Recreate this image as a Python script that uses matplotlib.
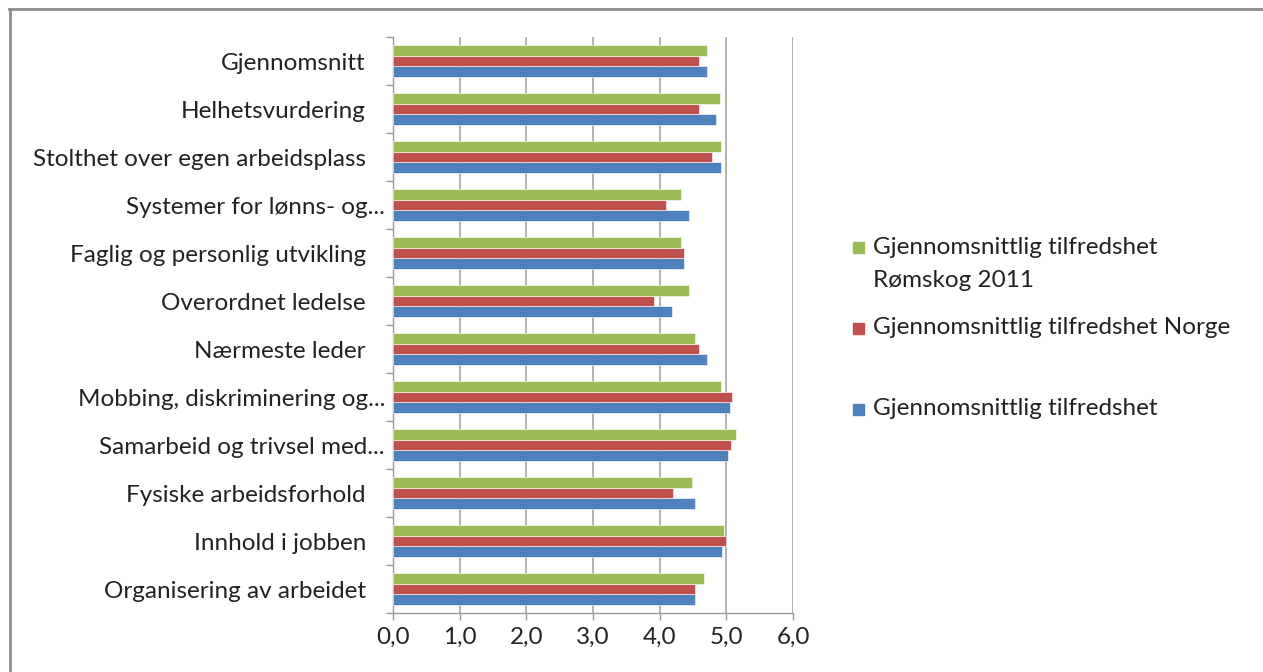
import matplotlib.pyplot as plt
import matplotlib.transforms as mtransforms
from matplotlib.patches import Rectangle
from matplotlib.lines import Line2D
import numpy as np

plt.rcParams['font.family'] = ['Lato', 'DejaVu Sans']

# categories listed bottom to top, as in the chart
categories = ['Organisering av arbeidet', 'Innhold i jobben', 'Fysiske arbeidsforhold',
              'Samarbeid og trivsel med...', 'Mobbing, diskriminering og...',
              'Nærmeste leder', 'Overordnet ledelse', 'Faglig og personlig utvikling',
              'Systemer for lønns- og...', 'Stolthet over egen arbeidsplass',
              'Helhetsvurdering', 'Gjennomsnitt']
tilfredshet = [4.53, 4.94, 4.53, 5.03, 5.05, 4.71, 4.19, 4.36, 4.44, 4.92, 4.84, 4.71]
norge = [4.53, 5.00, 4.20, 5.07, 5.09, 4.59, 3.92, 4.36, 4.09, 4.78, 4.59, 4.59]
romskog = [4.67, 4.96, 4.49, 5.15, 4.92, 4.53, 4.44, 4.32, 4.32, 4.92, 4.90, 4.71]

series_names = ['Gjennomsnittlig tilfredshet', 'Gjennomsnittlig tilfredshet Norge',
                'Gjennomsnittlig tilfredshet\nRømskog 2011']
colors = ['#4F81BD', '#C0504D', '#9BBB59']
x_ticks = [0, 1, 2, 3, 4, 5, 6]

FS = 17.5
W, H = 1263, 672
fig = plt.figure(figsize=(12.63, 6.72), dpi=100)
ax = fig.add_axes([393 / W, 1 - 613 / H, 400 / W, 576 / H])

y = np.arange(len(categories))
h = 0.222
for k, vals in enumerate([tilfredshet, norge, romskog]):
    ax.barh(y + (k - 1) * h, vals, height=h, color=colors[k], edgecolor='white',
            linewidth=0.4, zorder=3)

ax.set_xlim(0, 6)
ax.set_ylim(-0.5, len(categories) - 0.5)
ax.set_xticks(x_ticks)
ax.set_xticklabels([f'{v:.1f}'.replace('.', ',') for v in x_ticks], fontsize=FS, color='#222222')
ax.set_yticks(y)
ax.set_yticklabels(categories, fontsize=FS, color='#222222')
ax.set_yticks(np.arange(len(categories) + 1) - 0.5, minor=True)
ax.tick_params(axis='y', which='major', length=0, pad=19.5)
ax.tick_params(axis='y', which='minor', length=5, color='#999999', width=1)
ax.tick_params(axis='x', length=5, color='#999999', width=1, pad=5)
# truncated labels sit closer to the axis
shift = mtransforms.ScaledTranslation(19 / 100, 0, fig.dpi_scale_trans)
for lab in ax.get_yticklabels():
    if lab.get_text().endswith('...'):
        lab.set_transform(lab.get_transform() + shift)
ax.grid(axis='x', color='#a6a6a6', linewidth=1.2, zorder=0)
for s in ['top', 'right']:
    ax.spines[s].set_visible(False)
for s in ['left', 'bottom']:
    ax.spines[s].set_color('#999999')
    ax.spines[s].set_linewidth(1)

# legend, drawn by hand to match the spacing
leg_rows = [(247, 2), (328, 1), (409, 0)]
for yc, k in leg_rows:
    fig.patches.append(Rectangle((853 / W, 1 - (yc + 6) / H), 11 / W, 11 / H,
                                 transform=fig.transFigure, color=colors[k]))
    for i, line in enumerate(series_names[k].split('\n')):
        fig.text(873 / W, 1 - (yc + i * 33) / H, line, fontsize=FS,
                 va='center', ha='left', color='#222222')

# chart border (top and left visible)
fig.add_artist(Line2D([9 / W, 1], [1 - 9 / H, 1 - 9 / H], transform=fig.transFigure,
                      color='#8c8c8c', linewidth=2))
fig.add_artist(Line2D([10 / W, 10 / W], [0, 1 - 9 / H], transform=fig.transFigure,
                      color='#8c8c8c', linewidth=2))

fig.savefig('out.png', dpi=100)
